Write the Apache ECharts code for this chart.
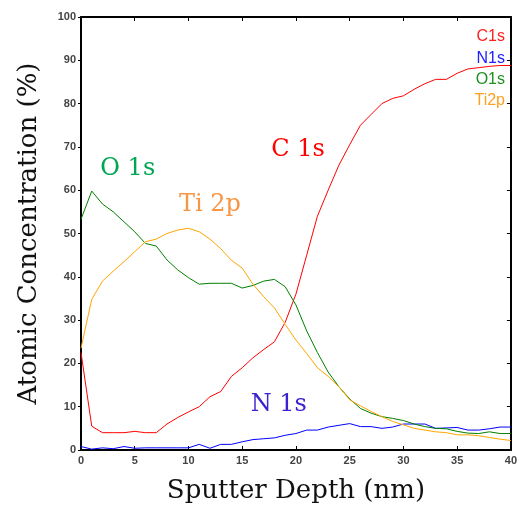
<!DOCTYPE html>
<html>
<head>
<meta charset="utf-8">
<script src="https://cdn.jsdelivr.net/npm/echarts@6/dist/echarts.min.js"></script>
<style>html,body{margin:0;padding:0;background:#fff;}#c{width:520px;height:515px;}</style>
</head>
<body>
<div id="c"></div>
<script>
const depth = [0,1,2,3,4,5,6,7,8,9,10,11,12,13,14,15,16,17,18,19,20,21,22,23,24,25,26,27,28,29,30,31,32,33,34,35,36,37,38,39,40];
const c1s = [22.5,5.5,4,4,4,4.3,4,4,6,7.5,8.8,10,12.3,13.5,17,19,21.3,23.2,25,29.5,36,45,54,60,65.8,70.5,75,77.5,80,81.2,81.8,83.3,84.6,85.6,85.6,87,88,88.3,88.6,88.8,88.8];
const n1s = [0.8,0.2,0.5,0.3,0.8,0.4,0.5,0.5,0.5,0.5,0.5,1.3,0.4,1.3,1.3,1.9,2.4,2.6,2.8,3.4,3.8,4.6,4.6,5.3,5.7,6.1,5.4,5.4,5.0,5.3,6.0,6.0,6.0,5.0,5.1,5.2,4.6,4.6,4.9,5.3,5.3];
const o1s = [53.3,59.8,56.8,55,52.7,50.4,47.7,47.1,43.9,41.6,39.8,38.3,38.5,38.5,38.5,37.4,38,39,39.4,37.7,33.5,27.5,22.5,18,14.6,11.8,9.6,8.5,7.7,7.3,6.8,6.0,5.4,5.0,4.9,4.3,3.9,3.8,4.2,3.8,3.8];
const ti2p = [23.5,34.8,39,41.3,43.5,45.8,48.1,48.7,50,50.8,51.2,50.4,48.7,46.5,43.8,42,38.3,35.4,32.8,29,25.4,22.3,19,17,14.6,11.6,10.2,8.9,7.7,6.6,5.8,5.0,4.6,4.2,4.0,3.5,3.5,3.3,2.9,2.5,2.2];
const seriesNames = ['C1s','N1s','O1s','Ti2p'];
const seriesColors = ['#ff0000','#0000ff','#008000','#ffa500'];
const legendColors = ['#ff2020','#2020ff','#209020','#ffa020'];
const annotationTexts = ['C 1s','N 1s','O 1s','Ti 2p'];
const annotationX = [20.2, 18.4, 4.35, 12.0];
const annotationY = [69.3, 10.4, 64.9, 56.6];
const annotationColors = ['#ff0000','#3a22d0','#00a651','#f79646'];
const xTicks = [0,5,10,15,20,25,30,35,40];

const chart = echarts.init(document.getElementById('c'));
const allData = [c1s, n1s, o1s, ti2p];
const labelStyle = {color:'#444', fontSize:11, fontWeight:'bold', fontFamily:'Liberation Sans'};
const series = seriesNames.map((n,i)=>({
  name:n, type:'line', xAxisIndex:0, yAxisIndex:0,
  data: depth.map((d,j)=>[d, allData[i][j]]),
  showSymbol:false, symbol:'none', smooth:false,
  lineStyle:{width:1, color:seriesColors[i]}, itemStyle:{color:seriesColors[i]},
  markPoint:{
    symbol:'circle', symbolSize:0, silent:true,
    data:[{coord:[annotationX[i], annotationY[i]], value:0}],
    label:{show:true, position:'inside', formatter:annotationTexts[i], color:annotationColors[i],
      fontFamily:'DejaVu Serif', fontSize:24, fontWeight:'normal'}
  }
}));
chart.setOption({
  animation:false,
  backgroundColor:'#fff',
  grid:{left:81, right:7, top:17, bottom:65},
  legend:{
    orient:'vertical', right:5, top:24, align:'right',
    itemWidth:0, itemHeight:14, itemGap:5.3,
    icon:'rect', itemStyle:{opacity:0},
    textStyle:{fontSize:16, fontFamily:'Liberation Sans', padding:0},
    data: seriesNames.map((n,i)=>({name:n, textStyle:{color:legendColors[i]}}))
  },
  xAxis:[{
    type:'value', min:0, max:40, interval:5, position:'bottom',
    name:'Sputter Depth (nm)', nameLocation:'middle', nameGap:28,
    nameTextStyle:{fontFamily:'DejaVu Serif', fontSize:26, color:'#111'},
    axisLine:{show:true, onZero:false, lineStyle:{color:'#000', width:2}},
    axisTick:{show:true, inside:true, length:4},
    axisLabel:{...labelStyle, margin:5},
    splitLine:{show:false}
  },{
    type:'value', min:0, max:40, interval:5, position:'top',
    axisLine:{show:true, onZero:false, lineStyle:{color:'#000', width:2}},
    axisTick:{show:true, inside:true, length:4},
    axisLabel:{show:false}, splitLine:{show:false}
  }],
  yAxis:[{
    type:'value', min:0, max:100, interval:10, position:'left',
    name:'Atomic Concentration (%)', nameLocation:'middle', nameGap:39,
    nameTextStyle:{fontFamily:'DejaVu Serif', fontSize:26, color:'#111'},
    axisLine:{show:true, onZero:false, lineStyle:{color:'#000', width:2}},
    axisTick:{show:true, inside:false, length:3},
    axisLabel:{...labelStyle, margin:5},
    splitLine:{show:false}
  },{
    type:'value', min:0, max:100, interval:10, position:'right',
    axisLine:{show:true, onZero:false, lineStyle:{color:'#000', width:2}},
    axisTick:{show:true, inside:true, length:4},
    axisLabel:{show:false}, splitLine:{show:false}
  }],
  series: series
});
</script>
</body>
</html>
